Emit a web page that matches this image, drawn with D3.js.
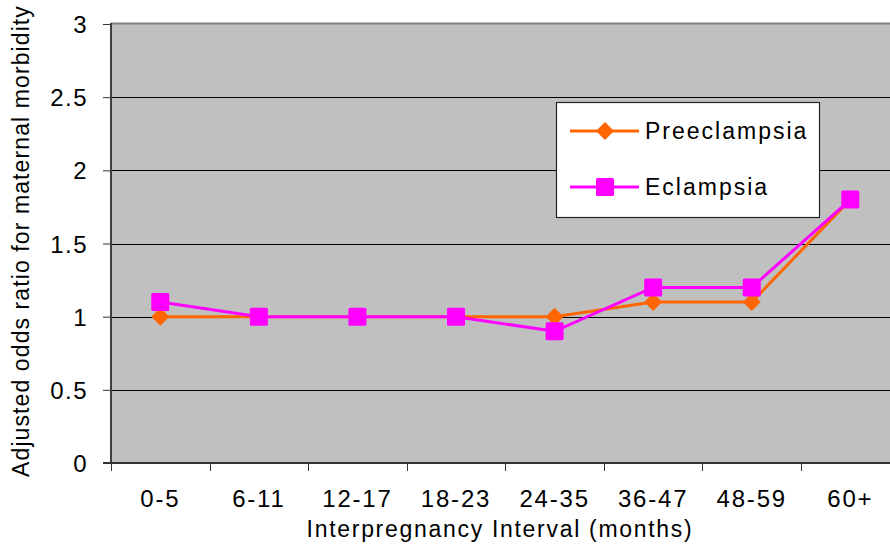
<!DOCTYPE html>
<html>
<head>
<meta charset="utf-8">
<script src="https://cdn.jsdelivr.net/npm/d3@7"></script>
<style>
  html, body { margin: 0; padding: 0; background: #fff; }
  svg text { font-family: "Liberation Sans", Arial, sans-serif; fill: #000; }
</style>
</head>
<body>
<svg id="chart" width="890" height="544"></svg>
<script>
const categories = ["0-5", "6-11", "12-17", "18-23", "24-35", "36-47", "48-59", "60+"];
const preeclampsia = [1.0, 1.0, 1.0, 1.0, 1.0, 1.1, 1.1, 1.8];
const eclampsia = [1.1, 1.0, 1.0, 1.0, 0.9, 1.2, 1.2, 1.8];
const yTicks = [0, 0.5, 1, 1.5, 2, 2.5, 3];
const seriesNames = ["Preeclampsia", "Eclampsia"];
const xTitle = "Interpregnancy Interval (months)";
const yTitle = "Adjusted odds ratio for maternal morbidity";

(function () {
const svg = d3.select("#chart");
const pL = 111, pR = 899.6, pT = 24, pB = 463;

const x = d3.scaleBand().domain(categories).range([pL, pR]).padding(0);
const y = d3.scaleLinear().domain([0, 3]).range([pB, pT]);
const cx = c => x(c) + x.bandwidth() / 2;

// plot background
svg.append("rect").attr("x", pL).attr("y", pT)
  .attr("width", pR - pL).attr("height", pB - pT)
  .attr("fill", "#C0C0C0");

// gridlines
svg.append("g").selectAll("line").data(yTicks.filter(t => t > 0 && t < 3)).join("line")
  .attr("x1", pL).attr("x2", pR)
  .attr("y1", d => Math.round(y(d)) + 0.5).attr("y2", d => Math.round(y(d)) + 0.5)
  .attr("stroke", "#000").attr("stroke-width", 1);

// top border
svg.append("line").attr("x1", pL).attr("x2", pR)
  .attr("y1", pT - 0.5).attr("y2", pT - 0.5)
  .attr("stroke", "#808080").attr("stroke-width", 2);

// y axis
const yAxis = svg.append("g").attr("transform", `translate(${pL},0)`)
  .call(d3.axisLeft(y).tickValues(yTicks).tickFormat(d3.format("~g")).tickSize(8).tickPadding(15));
yAxis.select(".domain").remove();
yAxis.selectAll(".tick line").attr("stroke", "#333").attr("stroke-width", 1);
yAxis.selectAll(".tick text")
  .style("font-size", "24px").style("letter-spacing", "1.5px")
  .attr("dy", "0.36em").attr("fill", "#000");
svg.append("line").attr("x1", pL).attr("x2", pL)
  .attr("y1", pT - 1).attr("y2", pB + 1)
  .attr("stroke", "#404040").attr("stroke-width", 2);

// x axis
const xAxis = svg.append("g").attr("transform", `translate(0,${pB})`)
  .call(d3.axisBottom(x).tickSize(0).tickPadding(0));
xAxis.select(".domain").remove();
xAxis.selectAll(".tick text")
  .style("font-size", "24px").style("letter-spacing", "1.8px")
  .attr("y", 44).attr("dy", 0).attr("fill", "#000");
svg.append("g").selectAll("line").data(categories).join("line")
  .attr("x1", d => Math.round(x(d)) + 0.5).attr("x2", d => Math.round(x(d)) + 0.5)
  .attr("y1", pB).attr("y2", pB + 8)
  .attr("stroke", "#333").attr("stroke-width", 1);
svg.append("line").attr("x1", pL - 8).attr("x2", pR)
  .attr("y1", pB).attr("y2", pB)
  .attr("stroke", "#333").attr("stroke-width", 2);

// lines
const line = d3.line().x((d, i) => cx(categories[i])).y(d => y(d));
const colors = ["#FF6600", "#FF00FF"];
const diamond = (s, px, py) => `M${px},${py - s}L${px + s},${py}L${px},${py + s}L${px - s},${py}Z`;

svg.append("path").datum(preeclampsia).attr("d", line)
  .attr("fill", "none").attr("stroke", colors[0]).attr("stroke-width", 3);
svg.append("g").selectAll("path").data(preeclampsia).join("path")
  .attr("d", (d, i) => diamond(9, cx(categories[i]), y(d)))
  .attr("fill", colors[0]);

svg.append("path").datum(eclampsia).attr("d", line)
  .attr("fill", "none").attr("stroke", colors[1]).attr("stroke-width", 3);
svg.append("g").selectAll("rect").data(eclampsia).join("rect")
  .attr("x", (d, i) => cx(categories[i]) - 9).attr("y", d => y(d) - 9)
  .attr("width", 18).attr("height", 18).attr("rx", 1.5)
  .attr("fill", colors[1]);

// legend
const lg = svg.append("g");
lg.append("rect").attr("x", 556.5).attr("y", 102.5).attr("width", 263).attr("height", 115)
  .attr("fill", "#fff").attr("stroke", "#222").attr("stroke-width", 1.2);
const ly = [131, 187];
seriesNames.forEach((name, i) => {
  lg.append("line").attr("x1", 570).attr("x2", 639).attr("y1", ly[i]).attr("y2", ly[i])
    .attr("stroke", colors[i]).attr("stroke-width", 3);
  if (i === 0) {
    lg.append("path").attr("d", diamond(9, 605, ly[i])).attr("fill", colors[i]);
  } else {
    lg.append("rect").attr("x", 596).attr("y", ly[i] - 9).attr("width", 18).attr("height", 18)
      .attr("rx", 1.5).attr("fill", colors[i]);
  }
  lg.append("text").attr("x", 645).attr("y", ly[i] + 8)
    .style("font-size", "23px").style("letter-spacing", "2px").text(name);
});

// titles
svg.append("text").attr("x", 500).attr("y", 537).attr("text-anchor", "middle")
  .style("font-size", "23px").style("letter-spacing", "1.7px").text(xTitle);
svg.append("text").attr("transform", "translate(29,241) rotate(-90)").attr("text-anchor", "middle")
  .style("font-size", "23px").style("letter-spacing", "1.1px").text(yTitle);
})();
</script>
</body>
</html>
